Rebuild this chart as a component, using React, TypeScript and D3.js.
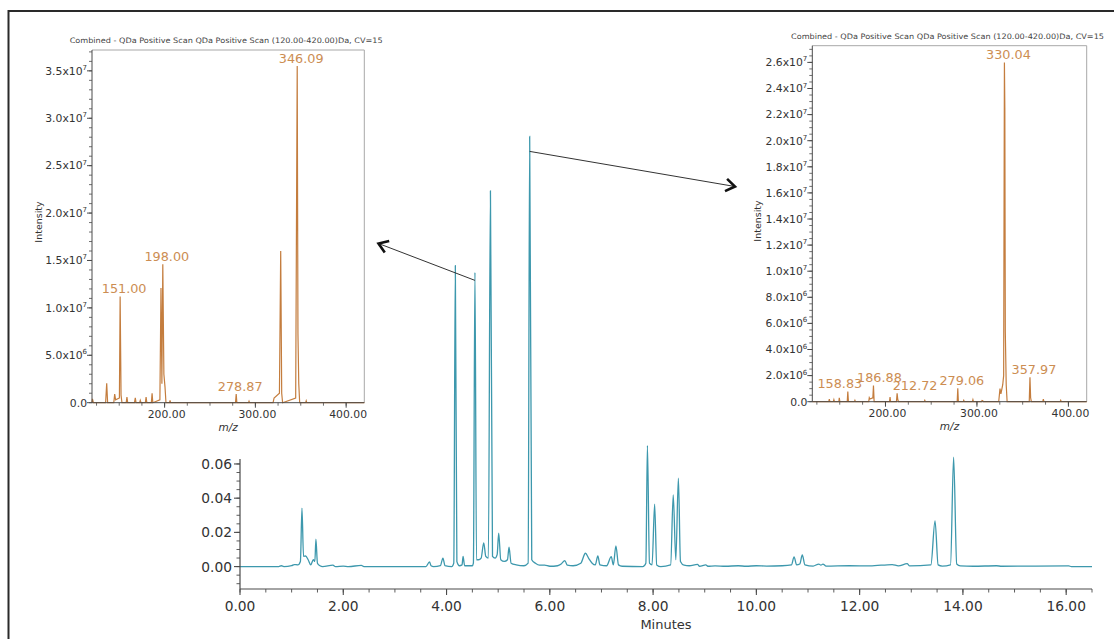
import * as d3 from 'd3'

const W = 1114
const H = 639
const FONT = '"DejaVu Sans", Verdana, sans-serif'

// chromatogram trace, [minutes, AU]
const CHROM: [number, number][] = [
  [0, 0], [0.75, 0], [0.8, 0.0005], [0.85, 0], [1.0, 0.0005], [1.05, 0.0012], [1.12, 0.001],
  [1.17, 0.003], [1.2, 0.0342], [1.23, 0.006], [1.27, 0.0062], [1.32, 0.004], [1.37, 0.001],
  [1.42, 0.004], [1.45, 0.003], [1.47, 0.016], [1.5, 0.002], [1.55, 0.0005], [1.6, 0],
  [1.8, 0.0008], [1.85, 0], [2.0, 0.0003], [2.1, 0], [2.35, 0.0007], [2.4, 0], [3.6, 0],
  [3.67, 0.0027], [3.7, 0.0005], [3.75, 0], [3.88, 0.0005], [3.93, 0.005], [3.97, 0.0005],
  [4.1, 0], [4.14, 0.002], [4.17, 0.176], [4.2, 0.003], [4.25, 0.0005], [4.3, 0.001],
  [4.32, 0.006], [4.35, 0.0005], [4.5, 0.0005], [4.52, 0.002], [4.55, 0.172], [4.58, 0.004],
  [4.62, 0.004], [4.67, 0.005], [4.72, 0.0139], [4.76, 0.006], [4.81, 0.005], [4.85, 0.2197],
  [4.89, 0.006], [4.94, 0.005], [4.98, 0.007], [5.01, 0.0195], [5.05, 0.004], [5.12, 0.003],
  [5.18, 0.004], [5.21, 0.0113], [5.25, 0.002], [5.35, 0.001], [5.5, 0.0005], [5.58, 0.002],
  [5.61, 0.2515], [5.65, 0.004], [5.72, 0.002], [5.8, 0.0008], [5.9, 0.0008], [6.0, 0.0002],
  [6.15, 0.0005], [6.22, 0.0015], [6.29, 0.0035], [6.34, 0.0008], [6.45, 0.0005], [6.6, 0.002],
  [6.69, 0.0078], [6.75, 0.005], [6.82, 0.002], [6.88, 0.001], [6.93, 0.0063], [6.97, 0.001],
  [7.1, 0.0005], [7.19, 0.0058], [7.23, 0.001], [7.28, 0.0121], [7.33, 0.001], [7.4, 0.0002],
  [7.8, 0], [7.86, 0.002], [7.89, 0.0708], [7.93, 0.002], [7.98, 0.001], [8.03, 0.0365],
  [8.07, 0.001], [8.15, 0], [8.34, 0.001], [8.39, 0.0419], [8.44, 0.004], [8.49, 0.0517],
  [8.53, 0.003], [8.6, 0.0008], [8.7, 0.0005], [8.86, 0.0013], [8.9, 0.0002], [9.02, 0.001],
  [9.06, 0.0002], [9.2, 0.0004], [9.4, 0.0002], [9.65, 0.0005], [9.8, 0.0002], [10.0, 0.0005],
  [10.2, 0.0003], [10.5, 0.0005], [10.68, 0.001], [10.73, 0.0057], [10.78, 0.001],
  [10.84, 0.0015], [10.89, 0.0068], [10.94, 0.001], [11.1, 0.0003], [11.21, 0.0015],
  [11.25, 0.0008], [11.29, 0.0015], [11.35, 0.0003], [11.8, 0.0005], [12.2, 0.0004],
  [12.63, 0.0012], [12.75, 0.0004], [12.92, 0.0017], [12.97, 0.0004], [13.38, 0.001],
  [13.46, 0.0267], [13.52, 0.001], [13.6, 0.0003], [13.76, 0.001], [13.82, 0.064],
  [13.88, 0.0015], [13.95, 0.0004], [14.2, 0.0002], [14.65, 0.0005], [14.75, 0.0002],
  [16.05, 0.0004], [16.1, 0], [16.5, 0],
]

// mass spectrum at ~4.55 min, [m/z, intensity]
const SPEC_LEFT: [number, number][] = [
  [120, 0], [120.5, 0.4e6], [121.5, 0], [135, 0], [136.2, 2.05e6], [137.2, 0], [144, 0],
  [145, 0.9e6], [146, 0.3e6], [150.2, 0.5e6], [151.0, 11.2e6], [152.0, 0.8e6], [153, 0],
  [157.7, 0], [158.5, 0.6e6], [159.3, 0], [166.8, 0], [167.7, 0.5e6], [168.5, 0], [172.5, 0],
  [173.2, 0.25e6], [174, 0], [178.8, 0], [179.6, 0.6e6], [180.4, 0], [185.4, 0], [186.2, 1.0e6],
  [187, 0], [194.8, 0.3e6], [196, 12.1e6], [197, 2e6], [198.0, 14.6e6], [199.2, 3e6],
  [200.4, 1.7e6], [201.5, 0], [205.4, 0], [206, 0.25e6], [206.6, 0], [278.1, 0],
  [278.87, 0.9e6], [279.6, 0], [292.4, 0], [293, 0.15e6], [293.6, 0], [319.5, 0],
  [320.6, 0.5e6], [326.5, 1.0e6], [327.9, 16.0e6], [329, 1.0e6], [330, 0], [344.4, 0.5e6],
  [346.09, 35.5e6], [346.9, 7.3e6], [347.8, 2.0e6], [348.8, 0], [355.4, 0], [356, 0.2e6],
  [356.6, 0], [420, 0],
]
const LABELS_LEFT: [number, number][] = [
  [151.0, 11.2e6], [198.0, 14.6e6], [278.87, 0.9e6], [346.09, 35.5e6],
]

// mass spectrum at ~5.61 min
const SPEC_RIGHT: [number, number][] = [
  [120, 0], [138, 0], [138.6, 0.2e6], [139.2, 0], [143, 0], [143.6, 0.15e6], [144.2, 0],
  [149, 0], [149.5, 0.3e6], [150.1, 0], [158.2, 0], [158.83, 0.77e6], [159.5, 0], [166, 0],
  [166.6, 0.1e6], [167.2, 0], [181.7, 0], [182.3, 0.3e6], [183, 0.2e6], [186.2, 0.3e6],
  [186.88, 1.23e6], [187.6, 0], [204.4, 0], [205, 0.35e6], [205.6, 0], [212, 0],
  [212.72, 0.64e6], [213.4, 0.2e6], [214.2, 0], [242.4, 0], [243, 0.1e6], [243.6, 0],
  [278.4, 0], [279.06, 1.03e6], [279.7, 0], [285, 0], [285.6, 0.1e6], [286.2, 0], [295, 0],
  [295.6, 0.15e6], [296.2, 0], [305, 0], [305.6, 0.1e6], [306.4, 0.08e6], [307, 0],
  [323.8, 0], [325.2, 1.0e6], [326.2, 0.6e6], [328.2, 1.3e6], [329.2, 2e6], [330.04, 26.0e6],
  [330.5, 22.5e6], [331, 5.4e6], [332, 1.3e6], [333, 0], [357.2, 0], [357.97, 1.87e6],
  [358.7, 0.3e6], [359.5, 0], [372, 0], [372.6, 0.2e6], [373.2, 0], [391, 0], [391.6, 0.1e6],
  [392.2, 0], [420, 0],
]
const LABELS_RIGHT: [number, number][] = [
  [158.83, 0.77e6], [186.88, 1.23e6], [212.72, 0.64e6], [279.06, 1.03e6],
  [330.04, 26.0e6], [357.97, 1.87e6],
]

const TITLE = 'Combined - QDa Positive Scan QDa Positive Scan (120.00-420.00)Da, CV=15'
const MAIN_X_TICKS = [0, 2, 4, 6, 8, 10, 12, 14, 16]
const MAIN_Y_TICKS = [0, 0.02, 0.04, 0.06]
const LEFT_Y_TICKS = [0, 5e6, 1e7, 1.5e7, 2e7, 2.5e7, 3e7, 3.5e7]
const RIGHT_Y_TICKS = [0, 2e6, 4e6, 6e6, 8e6, 1e7, 1.2e7, 1.4e7, 1.6e7, 1.8e7, 2e7, 2.2e7, 2.4e7, 2.6e7]
const MZ_TICKS = [200, 300, 400]

const TEAL = '#3d98ad'
const ORANGE = '#c47d3e'
const LABEL_ORANGE = '#cc8d52'
const AXIS = '#4a4a4a'
const TEXT = '#333'

function sci(v: number) {
  if (v === 0) return { m: '0.0', e: '' }
  const e = Math.floor(Math.log10(v) + 1e-9)
  return { m: (v / 10 ** e).toFixed(1) + 'x10', e: String(e) }
}

function Inset({ box, yMax, yMinor, spec, labels, yTicks, nudge, titleY, yLabelX, yLabelY }: any) {
  const { L, R, T, B } = box
  const x = d3.scaleLinear().domain([120, 420]).range([L, R])
  const y = d3.scaleLinear().domain([0, yMax]).range([B, T])
  const line = d3.line<[number, number]>().x((d) => x(d[0])).y((d) => y(d[1]))
  const minorY = d3.range(0, yMax, yMinor)
  const minorX = d3.range(125, 420, 25)
  return (
    <g fontFamily={FONT}>
      <text x={(L + R) / 2 - 2} y={titleY} fontSize={7.5} fill="#444" textAnchor="middle"
        textLength={313} lengthAdjust="spacingAndGlyphs">{TITLE}</text>
      <path d={`M${L},${T}H${R}V${B}`} fill="none" stroke="#a8a8a8" strokeWidth={1} />
      <path d={line(spec) ?? ''} fill="none" stroke={ORANGE} strokeWidth={1.2} />
      <line x1={L} x2={L} y1={T} y2={B} stroke={AXIS} strokeWidth={1} />
      <line x1={L} x2={R} y1={B} y2={B} stroke={AXIS} strokeWidth={1} />
      {minorY.map((t: number) => (
        <line key={`my${t}`} x1={L - 3} x2={L} y1={y(t)} y2={y(t)} stroke={AXIS} strokeWidth={0.8} />
      ))}
      {yTicks.map((t: number) => {
        const s = sci(t)
        return (
          <g key={`y${t}`}>
            <line x1={L - 5} x2={L} y1={y(t)} y2={y(t)} stroke={AXIS} strokeWidth={1} />
            <text x={L - 5} y={y(t) + 3.8} fontSize={10.8} fill={TEXT} textAnchor="end">
              {s.m}
              {s.e && <tspan dy={-4.8} fontSize={7}>{s.e}</tspan>}
            </text>
          </g>
        )
      })}
      {minorX.map((t: number) => (
        <line key={`mx${t}`} x1={x(t)} x2={x(t)} y1={B} y2={B + 3} stroke={AXIS} strokeWidth={0.8} />
      ))}
      {MZ_TICKS.map((t) => (
        <g key={`x${t}`}>
          <line x1={x(t)} x2={x(t)} y1={B} y2={B + 5} stroke={AXIS} strokeWidth={1} />
          <text x={x(t) + 2} y={B + 15} fontSize={10.8} fill={TEXT} textAnchor="middle">
            {t.toFixed(2)}
          </text>
        </g>
      ))}
      <text x={(L + R) / 2} y={B + 28.5} fontSize={10.5} fontStyle="italic" fill={TEXT} textAnchor="middle">m/z</text>
      <text transform={`translate(${yLabelX},${yLabelY}) rotate(-90)`} fontSize={9.5} fill={TEXT} textAnchor="middle">
        Intensity
      </text>
      {labels.map(([mz, v]: [number, number]) => (
        <text key={mz} x={x(mz) + (nudge[mz] ?? 4)} y={y(v) - 3.5} fontSize={12.8} fill={LABEL_ORANGE}
          textAnchor="middle">{mz.toFixed(2)}</text>
      ))}
    </g>
  )
}

function Arrow({ x1, y1, x2, y2 }: { x1: number; y1: number; x2: number; y2: number }) {
  const a = Math.atan2(y1 - y2, x1 - x2)
  const len = 11
  const sp = 0.6
  const p1 = [x2 + len * Math.cos(a + sp), y2 + len * Math.sin(a + sp)]
  const p2 = [x2 + len * Math.cos(a - sp), y2 + len * Math.sin(a - sp)]
  return (
    <g>
      <line x1={x1} y1={y1} x2={x2} y2={y2} stroke="#333" strokeWidth={1} />
      <polyline points={`${p1[0]},${p1[1]} ${x2},${y2} ${p2[0]},${p2[1]}`} fill="none" stroke="#111"
        strokeWidth={2.6} strokeLinejoin="miter" />
    </g>
  )
}

export default function App() {
  const xM = d3.scaleLinear().domain([0, 16.5]).range([240, 1092])
  const yM = d3.scaleLinear().domain([-0.0131, 0.0629]).range([589, 459])
  const trace = d3.line<[number, number]>().x((d) => xM(d[0])).y((d) => yM(d[1])).curve(d3.curveMonotoneX)
  const minorX = d3.range(0, 16.51, 0.5)
  const minorY = d3.range(-0.01, 0.0626, 0.005)
  const [y0, y1] = [589, 459]

  return (
    <svg width={W} height={H} style={{ position: 'absolute', left: 0, top: 0, background: '#fff' }}>
      <rect width={W} height={H} fill="#fff" />
      <path d={`M8.5,${H + 5}V11H${W + 5}`} fill="none" stroke="#2a2a2a" strokeWidth={2} />

      <Inset box={{ L: 92, R: 364.3, T: 50, B: 402.7 }} yMax={3.72e7} yMinor={1e6} spec={SPEC_LEFT}
        labels={LABELS_LEFT} yTicks={LEFT_Y_TICKS} nudge={{}} titleY={43} yLabelX={41.5} yLabelY={222} />
      <Inset box={{ L: 812.3, R: 1086.7, T: 45.7, B: 401.7 }} yMax={2.728e7} yMinor={5e5} spec={SPEC_RIGHT}
        labels={LABELS_RIGHT} yTicks={RIGHT_Y_TICKS} nudge={{ 158.83: -8, 186.88: 6, 212.72: 18 }} titleY={39}
        yLabelX={761} yLabelY={221} />

      {/* main chromatogram */}
      <g fontFamily={FONT}>
        <path d={trace(CHROM) ?? ''} fill="none" stroke={TEAL} strokeWidth={1.3} />
        <line x1={xM(0)} x2={xM(0)} y1={y1} y2={y0} stroke={AXIS} strokeWidth={1.2} />
        <line x1={xM(0)} x2={xM(16.5)} y1={y0} y2={y0} stroke={AXIS} strokeWidth={1.2} />
        {minorY.map((t) => (
          <line key={`my${t}`} x1={xM(0) - 3.5} x2={xM(0)} y1={yM(t)} y2={yM(t)} stroke={AXIS} strokeWidth={0.9} />
        ))}
        {MAIN_Y_TICKS.map((t) => (
          <g key={`y${t}`}>
            <line x1={xM(0) - 6} x2={xM(0)} y1={yM(t)} y2={yM(t)} stroke={AXIS} strokeWidth={1.1} />
            <text x={xM(0) - 8} y={yM(t) + 5} fontSize={13.8} fill={TEXT} textAnchor="end">{t.toFixed(2)}</text>
          </g>
        ))}
        {minorX.map((t) => (
          <line key={`mx${t}`} x1={xM(t)} x2={xM(t)} y1={y0} y2={y0 + 3.5} stroke={AXIS} strokeWidth={0.9} />
        ))}
        {MAIN_X_TICKS.map((t) => (
          <g key={`x${t}`}>
            <line x1={xM(t)} x2={xM(t)} y1={y0} y2={y0 + 6} stroke={AXIS} strokeWidth={1.1} />
            <text x={xM(t)} y={611} fontSize={13.8} fill={TEXT} textAnchor="middle">{t.toFixed(2)}</text>
          </g>
        ))}
        <text x={(xM(0) + xM(16.5)) / 2} y={629} fontSize={13} fill={TEXT} textAnchor="middle">Minutes</text>
      </g>

      <Arrow x1={xM(4.55)} y1={yM(0.172) + 8} x2={378.5} y2={243.5} />
      <Arrow x1={xM(5.61)} y1={yM(0.2515) + 15} x2={735} y2={186.5} />
    </svg>
  )
}
